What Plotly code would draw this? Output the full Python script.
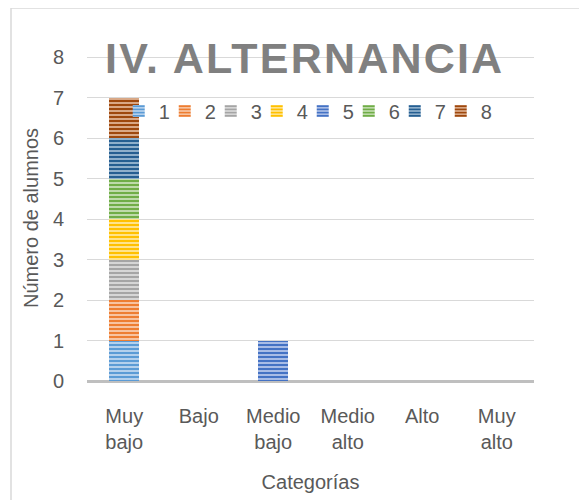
import plotly.graph_objects as go

categories = ["Muy<br>bajo", "Bajo", "Medio<br>bajo", "Medio<br>alto", "Alto", "Muy<br>alto"]
series_names = ["1", "2", "3", "4", "5", "6", "7", "8"]
s1 = [1, 0, 0, 0, 0, 0]
s2 = [1, 0, 0, 0, 0, 0]
s3 = [1, 0, 0, 0, 0, 0]
s4 = [1, 0, 0, 0, 0, 0]
s5 = [0, 0, 1, 0, 0, 0]
s6 = [1, 0, 0, 0, 0, 0]
s7 = [1, 0, 0, 0, 0, 0]
s8 = [1, 0, 0, 0, 0, 0]
series_values = [s1, s2, s3, s4, s5, s6, s7, s8]
spacer_values = [0, 0, 0, 0, 0, 0]
title_text = "IV. ALTERNANCIA"

base_colors = ["#5B9BD5", "#ED7D31", "#A5A5A5", "#FFC000", "#4472C4", "#70AD47", "#255E91", "#9E480E"]
light_colors = ["#B4D0EC", "#F7C3A0", "#D6D6D6", "#FFE38A", "#A8BCE6", "#BEDAAA", "#8EAFCB", "#D9A886"]

TEXT = "#595959"
FONT = "Liberation Sans"

fig = go.Figure()
for name, vals, c, lc in zip(series_names, series_values, base_colors, light_colors):
    fig.add_trace(go.Bar(
        x=categories, y=vals, name=name,
        marker=dict(
            color=c,
            line=dict(width=0),
            pattern=dict(shape="-", fgcolor=c, bgcolor=lc, fillmode="replace", size=4, solidity=0.5),
        ),
    ))
# invisible zero-height spacer entry so the last legend label is not clipped
fig.add_trace(go.Bar(x=categories, y=spacer_values, name=" ",
                     marker=dict(color="rgba(0,0,0,0)", line=dict(width=0)),
                     hoverinfo="skip"))

# page body has an 8px default margin, so figure is 8px smaller and margins shifted
fig.update_layout(
    barmode="stack",
    bargap=0.6,
    width=579, height=492,
    margin=dict(l=79, r=53, t=47, b=119),
    plot_bgcolor="white", paper_bgcolor="white",
    font=dict(family=FONT, size=20, color=TEXT),
    showlegend=True,
    legend=dict(orientation="h", x=0.071, y=0.888, xanchor="left", yanchor="top",
                bgcolor="rgba(0,0,0,0)", font=dict(size=20, color=TEXT),
                itemwidth=30, traceorder="normal", entrywidth=1, entrywidthmode="pixels"),
    annotations=[dict(text='<span style="letter-spacing:2.2px">' + title_text + '</span>',
                      xref="paper", yref="paper",
                      x=0.486, y=(381 - 58) / 326, xanchor="center", yanchor="middle",
                      showarrow=False,
                      font=dict(family=FONT, size=43, color="#808080", weight="bold"))],
    shapes=[dict(type="rect", xref="paper", yref="paper",
                 x0=(11 - 87) / 447, x1=(600 - 87) / 447,
                 y0=(381 - 510) / 326, y1=(381 - 8) / 326,
                 line=dict(color="#D9D9D9", width=1.5), fillcolor="rgba(0,0,0,0)", layer="below")],
)

fig.update_xaxes(
    automargin=False,
    showgrid=False, showline=False,
    ticks="outside", ticklen=17, tickcolor="rgba(0,0,0,0)",
    tickfont=dict(size=20, color=TEXT),
    title=dict(text="Categorías", font=dict(size=20, color=TEXT), standoff=22),
)
fig.update_yaxes(
    automargin=False,
    range=[0, 8.05], dtick=1, tick0=0,
    showgrid=True, gridcolor="#D9D9D9", gridwidth=1,
    zeroline=True, zerolinecolor="#BFBFBF", zerolinewidth=3,
    showline=False,
    ticks="outside", ticklen=18, tickcolor="rgba(0,0,0,0)",
    tickfont=dict(size=20, color=TEXT),
    title=dict(text="Número de alumnos", font=dict(size=20, color=TEXT), standoff=8),
)

fig.write_html("out.html")
